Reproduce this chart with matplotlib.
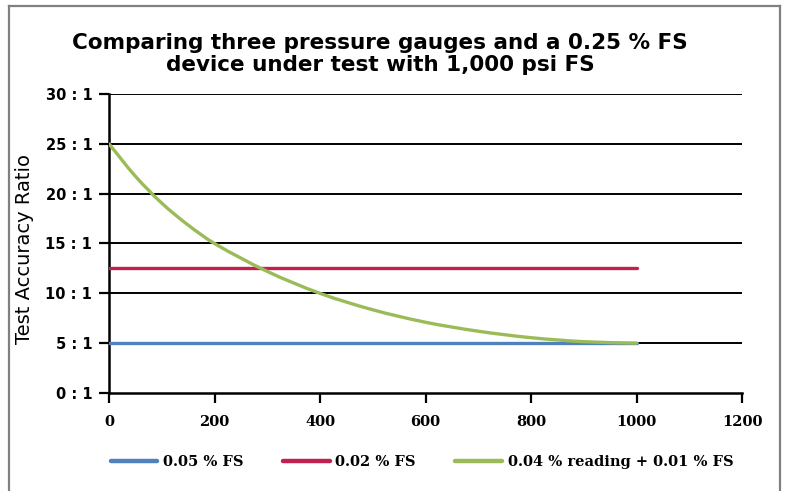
import matplotlib
matplotlib.use("Agg")
import matplotlib.pyplot as plt
from matplotlib.path import Path
from matplotlib.patches import PathPatch
from matplotlib.lines import Line2D
import numpy as np

# ---- data ----
title = "Comparing three pressure gauges and a 0.25 % FS\ndevice under test with 1,000 psi FS"
ylabel = "Test Accuracy Ratio"
series_names = ["0.05 % FS", "0.02 % FS", "0.04 % reading + 0.01 % FS"]
series_colors = ["#4F81BD", "#C0224F", "#9BBB59"]
pressure = [0, 1000]
tar_005 = [5, 5]
tar_002 = [12.5, 12.5]
pressure_curve = [0, 50, 100, 150, 200, 300, 400, 500, 600, 700, 800, 900, 1000]
tar_004 = [25.0, 21.75, 19.05, 16.85, 15.0, 12.2, 10.0, 8.35, 7.1, 6.2, 5.55, 5.15, 5.0]
xticks = [0, 200, 400, 600, 800, 1000, 1200]
yticks = [0, 5, 10, 15, 20, 25, 30]
ytick_labels = ["0 : 1", "5 : 1", "10 : 1", "15 : 1", "20 : 1", "25 : 1", "30 : 1"]

W, H = 785, 491
fig = plt.figure(figsize=(W / 100, H / 100), dpi=100)

def fx(px):
    return px / W

def fy(py):
    return 1 - py / H

# outer frame
frame_col = "#808080"
fig.add_artist(Line2D([fx(9), fx(9)], [fy(6), 0], color=frame_col, lw=1.6, transform=fig.transFigure))
fig.add_artist(Line2D([fx(9), fx(780)], [fy(6), fy(6)], color=frame_col, lw=1.6, transform=fig.transFigure))
fig.add_artist(Line2D([fx(780), fx(780)], [fy(6), 0], color=frame_col, lw=1.6, transform=fig.transFigure))

ax = fig.add_axes([fx(109), fy(393), fx(742) - fx(109), fy(94) - fy(393)])
ax.set_xlim(0, 1200)
ax.set_ylim(0, 30)

for y in yticks[1:]:
    ax.axhline(y, color="black", lw=1.4, zorder=1)

for s in ["top", "right"]:
    ax.spines[s].set_visible(False)
for s in ["left", "bottom"]:
    ax.spines[s].set_linewidth(1.8)
    ax.spines[s].set_color("black")

ax.set_xticks(xticks)
ax.set_xticklabels([str(v) for v in xticks], fontfamily="DejaVu Serif", fontweight="bold", fontsize=10.5)
ax.set_yticks(yticks)
ax.set_yticklabels(ytick_labels, fontfamily="DejaVu Sans", fontweight="bold", fontsize=10.5)
ax.tick_params(axis="both", direction="out", length=7, width=1.6, color="black")
ax.tick_params(axis="x", pad=9)
ax.tick_params(axis="y", pad=5)

ax.set_ylabel(ylabel, fontfamily="DejaVu Sans", fontsize=14, va="center")
ax.yaxis.set_label_coords((25 - 109) / 633, (393 - 249) / 299)

lw = 2.4
ax.plot(pressure, tar_005, color=series_colors[0], lw=lw, solid_capstyle="round", zorder=3)
ax.plot(pressure, tar_002, color=series_colors[1], lw=lw, solid_capstyle="round", zorder=3)

# smoothed curve (Catmull-Rom -> cubic Bezier) through the read points
def smooth_path(xs, ys):
    pts = np.column_stack([xs, ys]).astype(float)
    verts = [pts[0]]
    codes = [Path.MOVETO]
    n = len(pts)
    for i in range(n - 1):
        p0 = pts[i - 1] if i > 0 else 2 * pts[i] - pts[i + 1]
        p1 = pts[i]
        p2 = pts[i + 1]
        p3 = pts[i + 2] if i + 2 < n else pts[i + 1]
        dx = p2[0] - p1[0]
        t1 = (p2 - p0) * (dx / max(p2[0] - p0[0], 1e-9))
        t2 = (p3 - p1) * (dx / max(p3[0] - p1[0], 1e-9))
        c1 = p1 + t1 / 3.0
        c2 = p2 - t2 / 3.0
        verts += [c1, c2, p2]
        codes += [Path.CURVE4] * 3
    return Path(verts, codes)

ax.add_patch(PathPatch(smooth_path(pressure_curve, tar_004), fill=False, edgecolor=series_colors[2],
                       lw=lw, capstyle="round", zorder=4))

fig.text(fx(380), fy(54), title, ha="center", va="center", fontfamily="DejaVu Sans",
         fontweight="bold", fontsize=15.5, linespacing=1.15)

handles = [Line2D([], [], color=c, lw=3.2, solid_capstyle="round") for c in series_colors]
fig.legend(handles, series_names, loc="center", bbox_to_anchor=(fx(422), fy(462)), ncol=3,
           frameon=False, handlelength=3.2, handletextpad=0.4, columnspacing=2.7,
           borderpad=0, borderaxespad=0,
           prop={"family": "DejaVu Serif", "weight": "bold", "size": 10.5})

fig.savefig("out.png", dpi=100)
